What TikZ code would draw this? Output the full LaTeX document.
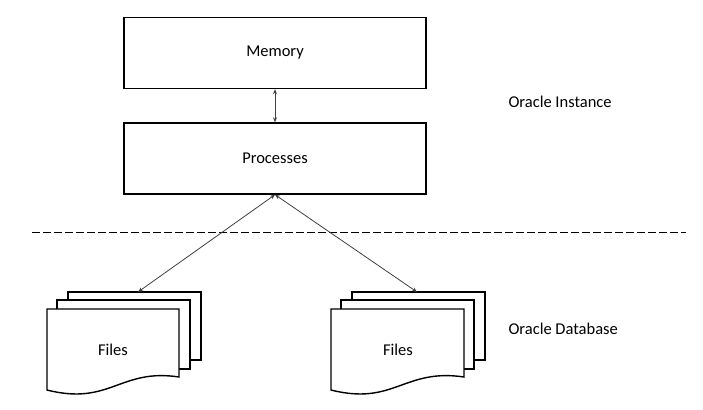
\documentclass[tikz,border=0pt]{standalone}
\usepackage{fontspec}
\setmainfont{Carlito}
\usetikzlibrary{arrows.meta}

\begin{document}
\begin{tikzpicture}[x=1pt,y=-1pt,
  box/.style={draw,line width=1.4pt,minimum width=302pt,minimum height=71pt,font=\fontsize{16.5}{20}\selectfont},
  page/.style={draw,line width=1.4pt,fill=white},
  txt/.style={font=\fontsize{16.5}{20}\selectfont},
  link/.style={draw=black!75,line width=0.8pt,{Stealth[length=5pt,width=4pt]}-{Stealth[length=5pt,width=4pt]}}]
\useasboundingbox (0,0) rectangle (703,409);
\node[box] (mem) at (275,53) {Memory};
\node[box] (proc) at (275,158.5) {Processes};
\draw[link] (mem.south) -- (proc.north);
\node[txt,anchor=west] (inst) at (505,102) {Oracle Instance};
\draw[line width=0.8pt,dash pattern=on 7.5pt off 3.5pt] (32,232) -- (686,232);
% left stack
\draw[page] (68,292) rectangle (201,360);
\draw[page] (57,300) rectangle (190,369);
\draw[page] (47,390) -- (47,309) -- (179,309) -- (179,377) .. controls (120,368) and (110,406) .. cycle;
\node[txt] (files1) at (113,350) {Files};
\coordinate (top1) at (138,292);
% right stack
\draw[page] (352,292) rectangle (485,360);
\draw[page] (341,300) rectangle (474,369);
\draw[page] (331,390) -- (331,309) -- (464,309) -- (464,377) .. controls (404,368) and (394,406) .. cycle;
\node[txt] (files2) at (398,350) {Files};
\coordinate (top2) at (417,292);
\node[txt,anchor=west] (db) at (505,329) {Oracle Database};
\draw[link] (proc.south) -- (top1);
\draw[link] (proc.south) -- (top2);
\end{tikzpicture}
\end{document}
